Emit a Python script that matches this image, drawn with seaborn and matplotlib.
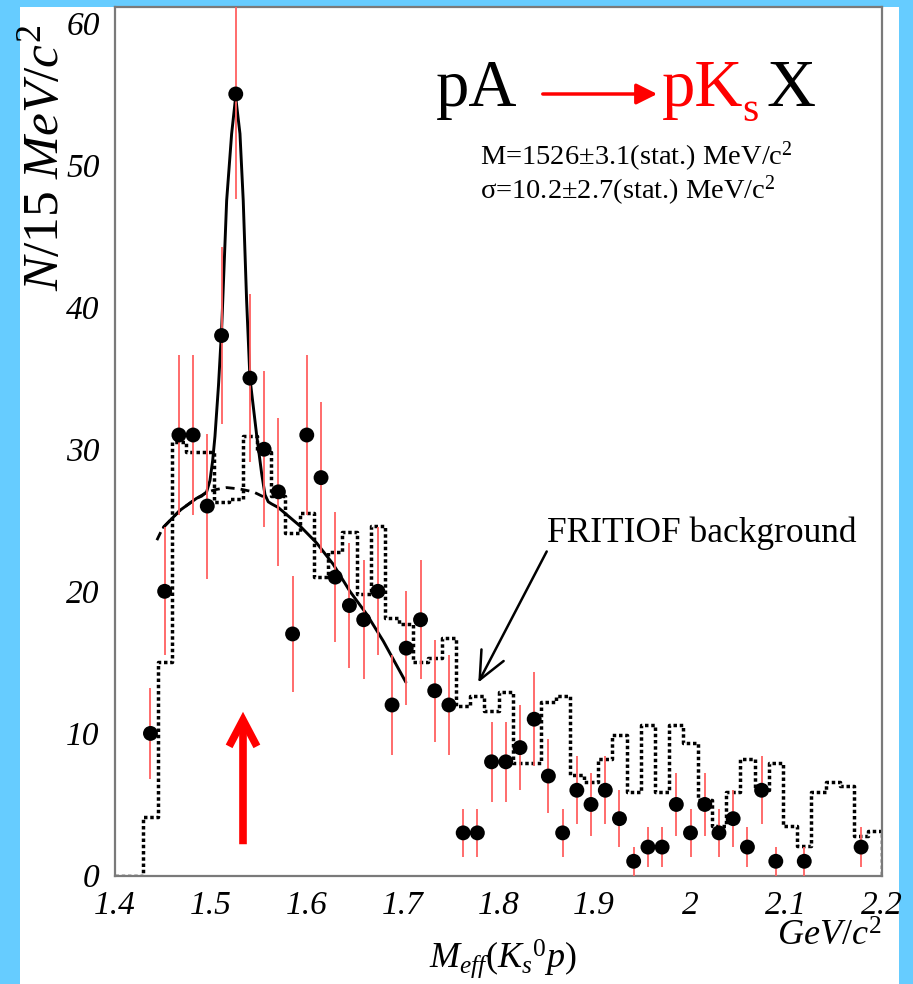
import numpy as np
import pandas as pd
import matplotlib
matplotlib.use("Agg")
import matplotlib.pyplot as plt
import seaborn as sns
from matplotlib.patches import Rectangle, FancyArrowPatch
from matplotlib.ticker import FixedLocator, FixedFormatter, MultipleLocator

# ---------------- data ----------------
bin_centers = [1.4370, 1.4518, 1.4667, 1.4815, 1.4963, 1.5112, 1.5260, 1.5408, 1.5556, 1.5705,
               1.5853, 1.6001, 1.6150, 1.6298, 1.6446, 1.6595, 1.6743, 1.6891, 1.7039, 1.7188,
               1.7336, 1.7484, 1.7633, 1.7781, 1.7929, 1.8078, 1.8226, 1.8374, 1.8522, 1.8671,
               1.8819, 1.8967, 1.9116, 1.9264, 1.9412, 1.9561, 1.9709, 1.9857, 2.0005, 2.0154,
               2.0302, 2.0450, 2.0599, 2.0747, 2.0895, 2.1044, 2.1192, 2.1340, 2.1488, 2.1637,
               2.1785, 2.1933]
bin_width = 0.01483

counts = [10, 20, 31, 31, 26, 38, 55, 35, 30, 27,
          17, 31, 28, 21, 19, 18, 20, 12, 16, 18,
          13, 12, 3, 3, 8, 8, 9, 11, 7, 3,
          6, 5, 6, 4, 1, 2, 2, 5, 3, 5,
          3, 4, 2, 6, 1, 0, 1, 0, 0, 0,
          2, 0]
count_errors = [3.2, 4.5, 5.6, 5.6, 5.1, 6.2, 7.4, 5.9, 5.5, 5.2,
                4.1, 5.6, 5.3, 4.6, 4.4, 4.2, 4.5, 3.5, 4.0, 4.2,
                3.6, 3.5, 1.7, 1.7, 2.8, 2.8, 3.0, 3.3, 2.6, 1.7,
                2.4, 2.2, 2.4, 2.0, 1.0, 1.4, 1.4, 2.2, 1.7, 2.2,
                1.7, 2.0, 1.4, 2.4, 1.0, 0.0, 1.0, 0.0, 0.0, 0.0,
                1.4, 0.0]

fritiof = [4.1, 15.0, 30.5, 29.8, 29.8, 26.3, 26.5, 30.9, 29.8, 26.7,
           24.1, 25.5, 21.0, 22.8, 24.2, 19.8, 24.6, 18.1, 17.7, 15.0,
           15.3, 16.7, 11.9, 12.6, 11.6, 12.9, 7.9, 7.9, 12.2, 12.6,
           7.1, 6.6, 8.2, 9.9, 5.9, 10.6, 5.9, 10.6, 9.3, 5.3,
           3.5, 5.9, 8.2, 6.0, 7.9, 3.5, 2.1, 5.9, 6.6, 6.3,
           2.8, 3.1]

# fit: signal + background
fit_x = [1.4504, 1.4678, 1.4852, 1.4904, 1.4956, 1.4991, 1.5019, 1.5043, 1.5080, 1.5113,
         1.5165, 1.5217, 1.5259, 1.5304, 1.5338, 1.5373, 1.5408, 1.5478, 1.5530, 1.5565,
         1.5599, 1.5634, 1.5703, 1.5930, 1.6104, 1.6277, 1.6451, 1.6625, 1.6799, 1.7035]
fit_y = [24.5, 25.7, 26.55, 26.7, 27.0, 27.8, 29.2, 30.9, 34.5, 38.5,
         47.5, 52.2, 54.8, 52.2, 47.5, 40.5, 35.0, 31.0, 28.3, 26.8,
         26.3, 26.15, 25.9, 24.6, 23.4, 21.9, 20.0, 18.4, 16.5, 13.6]
bkg_x = [1.4437, 1.4487, 1.4504, 1.4678, 1.4852, 1.4956, 1.5043, 1.5165, 1.5304, 1.5443, 1.5565]
bkg_y = [23.6, 24.3, 24.5, 25.7, 26.55, 26.95, 27.15, 27.3, 27.2, 27.0, 26.6]

x_tick_values = [1.4, 1.5, 1.6, 1.7, 1.8, 1.9, 2.0, 2.1, 2.2]
x_tick_labels = ["1.4", "1.5", "1.6", "1.7", "1.8", "1.9", "2", "2.1", "2.2"]
y_tick_values = [0, 10, 20, 30, 40, 50, 60]
y_tick_labels = ["0", "10", "20", "30", "40", "50", "60"]

# ---------------- style ----------------
sns.set_theme(style="white")
plt.rcParams["font.family"] = ["Liberation Serif", "DejaVu Serif"]
plt.rcParams["mathtext.fontset"] = "custom"
plt.rcParams["mathtext.rm"] = "Liberation Serif"
plt.rcParams["mathtext.it"] = "Liberation Serif:italic"
plt.rcParams["mathtext.bf"] = "Liberation Serif:bold"

W, H = 913, 984
fig = plt.figure(figsize=(W / 100, H / 100), dpi=100)
fig.patch.set_facecolor("#66CCFF")
fig.add_artist(Rectangle((20 / W, 0), (899 - 20) / W, 1 - 7 / H, transform=fig.transFigure,
                         facecolor="white", edgecolor="none", zorder=0))

ax = fig.add_axes([115 / W, 1 - 875.5 / H, (881.7 - 115) / W, (875.5 - 7.3) / H])
ax.set_facecolor("white")
ax.set_xlim(1.4, 2.2)
ax.set_ylim(0, 61.1)

# FRITIOF histogram outline (dotted)
centers = np.array(bin_centers)
edges_lo = centers - bin_width / 2
step_x = np.concatenate([[1.4], edges_lo, [2.2]])
step_y = np.concatenate([[0.0], fritiof, [0.0]])
hist_df = pd.DataFrame({"m": step_x, "n": step_y})
sns.lineplot(data=hist_df, x="m", y="n", ax=ax, drawstyle="steps-post", estimator=None,
             sort=False, color="black", lw=2.5, linestyle=(0, (1, 0.8)), zorder=2)

# background (dashed) and full fit (solid)
sns.lineplot(x=bkg_x, y=bkg_y, ax=ax, estimator=None, sort=False, color="black",
             lw=2.0, linestyle=(0, (3.2, 2.2)), zorder=3)
sns.lineplot(x=fit_x, y=fit_y, ax=ax, estimator=None, sort=False, color="black",
             lw=2.1, zorder=4)

# data points with red error bars
pts = pd.DataFrame({"m": bin_centers, "n": counts, "e": count_errors})
pts = pts[pts["n"] > 0]
ax.vlines(pts["m"], pts["n"] - pts["e"], pts["n"] + pts["e"], color="#ff6060", lw=1.3, zorder=5)
sns.scatterplot(data=pts, x="m", y="n", ax=ax, color="black", s=115, edgecolor="none",
                zorder=6, legend=False)

# axes styling
for sp in ax.spines.values():
    sp.set_color("#7a7a7a")
    sp.set_linewidth(1.6)
ax.xaxis.set_major_locator(FixedLocator(x_tick_values))
ax.xaxis.set_major_formatter(FixedFormatter(x_tick_labels))
ax.xaxis.set_minor_locator(MultipleLocator(0.025))
ax.yaxis.set_major_locator(FixedLocator(y_tick_values))
ax.yaxis.set_major_formatter(FixedFormatter(y_tick_labels))
ax.yaxis.set_minor_locator(MultipleLocator(2))
ax.tick_params(axis="both", which="major", direction="in", length=10, width=1.2,
               color="#555555", labelsize=24, labelcolor="black")
ax.tick_params(axis="both", which="minor", direction="in", length=5, width=1.0, color="#555555")
ax.tick_params(axis="x", which="major", pad=11)
ax.tick_params(axis="y", which="major", pad=11)
for lab in ax.get_xticklabels() + ax.get_yticklabels():
    lab.set_fontstyle("italic")
ax.set_xlabel("")
ax.set_ylabel("")

def fx(px):
    return px / W

def fy(py):
    return 1 - py / H

# axis titles
fig.text(fx(46), fy(158), r"$N/15\ MeV/c^{2}$", rotation=90, ha="center", va="center",
         fontsize=37, color="black")
fig.text(fx(882), fy(946), r"$GeV/c^{2}$", ha="right", va="baseline", fontsize=26, color="black")
fig.text(fx(503), fy(968), r"$M_{eff}(K_{s}{}^{0}p)$", ha="center", va="baseline",
         fontsize=26, color="black")

# reaction title
fig.text(fx(436), fy(106), "pA", ha="left", va="baseline", fontsize=48, color="black")
fig.add_artist(FancyArrowPatch((fx(540), fy(94)), (fx(660), fy(94)), transform=fig.transFigure,
                               arrowstyle="-|>,head_length=0.9,head_width=0.45",
                               mutation_scale=14, color="red", lw=2.5))
fig.text(fx(662), fy(106), "pK", ha="left", va="baseline", fontsize=48, color="red")
fig.text(fx(742), fy(121), "s", ha="left", va="baseline", fontsize=30, color="red")
fig.text(fx(766), fy(106), "X", ha="left", va="baseline", fontsize=49, color="black")

fig.text(fx(480), fy(165), "M=1526\u00b13.1(stat.) MeV/c$^{2}$", ha="left", va="baseline",
         fontsize=20.5, color="black")
fig.text(fx(480), fy(199), "\u03c3=10.2\u00b12.7(stat.) MeV/c$^{2}$", ha="left", va="baseline",
         fontsize=20.5, color="black")

# FRITIOF annotation
fig.text(fx(547), fy(542), "FRITIOF background", ha="left", va="baseline", fontsize=25.5,
         color="black")
fig.add_artist(FancyArrowPatch((fx(548), fy(549)), (fx(477), fy(685)), transform=fig.transFigure,
                               arrowstyle="->,head_length=1.0,head_width=0.45",
                               mutation_scale=20, color="black", lw=1.8))

# red arrow marking the peak
fig.add_artist(FancyArrowPatch((fx(243), fy(847)), (fx(243), fy(709)), transform=fig.transFigure,
                               arrowstyle="->,head_length=1.9,head_width=1.0",
                               mutation_scale=10, color="red", lw=5.5,
                               capstyle="butt", joinstyle="miter"))

fig.savefig("out.png", dpi=100, facecolor=fig.get_facecolor())
